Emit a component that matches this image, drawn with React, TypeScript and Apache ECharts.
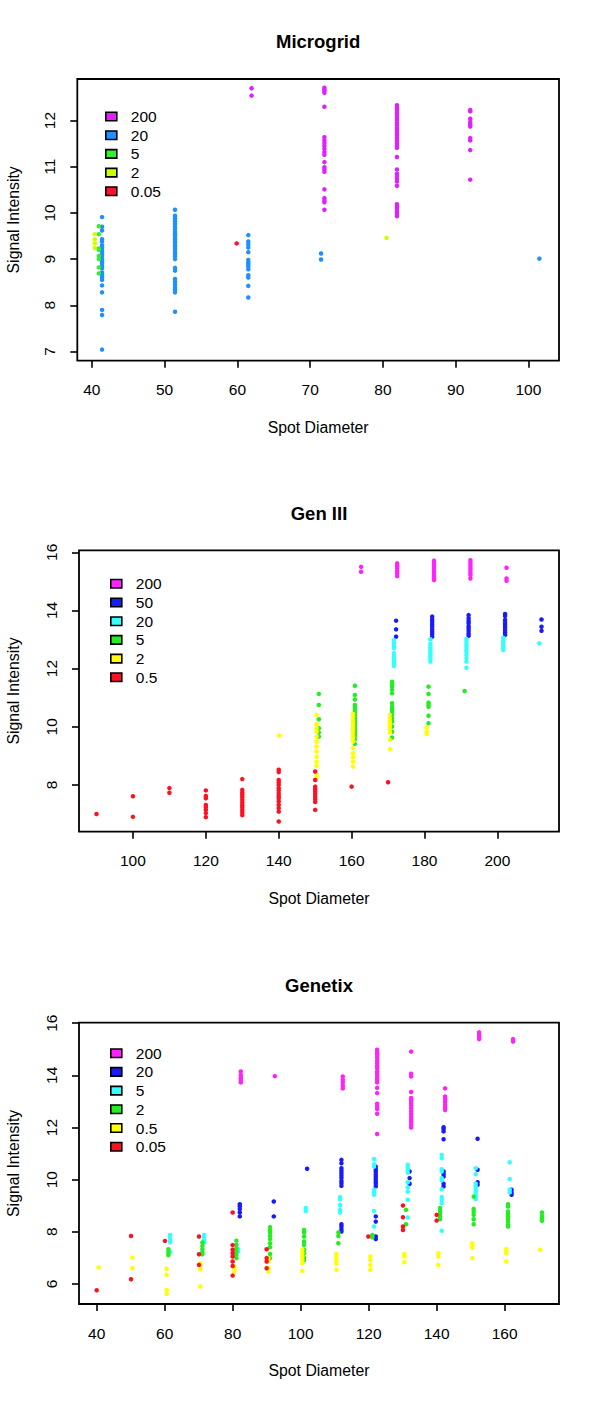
import React, { useEffect, useRef } from "react";
import * as echarts from "echarts";

type Group = [number, number[]];

// ---------- Microgrid ----------
const mgXTicks = [40, 50, 60, 70, 80, 90, 100];
const mgYTicks = [7, 8, 9, 10, 11, 12];
const mgNames = ["200", "20", "5", "2", "0.05"];
const mg200: Group[] = [
  [61.95, [12.7, 12.54]],
  [71.96, [12.71, 12.67, 12.64, 12.6, 12.3, 11.64, 11.57, 11.51, 11.45, 11.39, 11.32, 11.26, 11.1, 10.99, 10.94, 10.89, 10.51, 10.32, 10.27, 10.23, 10.07]],
  [81.93, [12.33, 12.28, 12.23, 12.17, 12.12, 12.06, 12.01, 11.95, 11.9, 11.84, 11.79, 11.73, 11.68, 11.62, 11.57, 11.51, 11.46, 11.41, 11.21, 10.94, 10.85, 10.8, 10.74, 10.68, 10.59, 10.19, 10.14, 10.09, 10.03, 9.98, 9.93]],
  [92.0, [12.23, 12.2, 12.04, 11.97, 11.92, 11.87, 11.62, 11.57, 11.36, 10.72]],
];
const mg20: Group[] = [
  [41.4, [9.91, 9.7, 9.62, 9.43, 9.38, 9.3, 9.25, 9.18, 9.12, 9.07, 9.01, 8.96, 8.91, 8.85, 8.8, 8.71, 8.65, 8.6, 8.55, 8.43, 8.28, 7.9, 7.79, 7.04]],
  [51.43, [10.07, 9.94, 9.88, 9.82, 9.76, 9.7, 9.65, 9.59, 9.54, 9.49, 9.43, 9.38, 9.33, 9.28, 9.22, 9.16, 9.11, 9.06, 9.0, 8.81, 8.75, 8.57, 8.51, 8.45, 8.38, 8.33, 8.28, 7.86]],
  [61.5, [9.52, 9.38, 9.32, 9.25, 9.15, 8.98, 8.93, 8.89, 8.84, 8.78, 8.65, 8.6, 8.42, 8.17]],
  [71.5, [9.12, 8.99]],
  [101.5, [9.01]],
];
const mg5: Group[] = [[40.96, [9.71, 9.54, 9.23, 9.2, 9.07, 9.0, 8.82, 8.69]]];
const mg2: Group[] = [
  [40.4, [9.54, 9.43, 9.34, 9.24]],
  [80.5, [9.46]],
];
const mg005: Group[] = [[59.9, [9.34]]];

// ---------- Gen III ----------
const g3XTicks = [100, 120, 140, 160, 180, 200];
const g3YTicks = [8, 10, 12, 14, 16];
const g3Names = ["200", "50", "20", "5", "2", "0.5"];
const g3_200: Group[] = [
  [162.6, [15.5, 15.33]],
  [172.5, [15.62, 15.53, 15.45, 15.35, 15.27, 15.18]],
  [182.6, [15.71, 15.62, 15.53, 15.45, 15.35, 15.27, 15.18, 15.1, 15.05]],
  [192.6, [15.73, 15.64, 15.56, 15.47, 15.39, 15.3, 15.22, 15.1]],
  [202.5, [15.47, 15.1, 15.02]],
];
const g3_50: Group[] = [
  [172.2, [13.65, 13.35, 13.1]],
  [182.1, [13.79, 13.69, 13.61, 13.53, 13.44, 13.35, 13.27, 13.19, 13.1]],
  [192.1, [13.84, 13.73, 13.64, 13.56, 13.46, 13.38, 13.3, 13.21, 13.13]],
  [202.1, [13.88, 13.81, 13.67, 13.58, 13.5, 13.42, 13.33, 13.24, 13.16]],
  [212.1, [13.69, 13.44, 13.3]],
];
const g3_20: Group[] = [
  [171.6, [12.98, 12.87, 12.78, 12.7, 12.53, 12.43, 12.35, 12.27, 12.18, 12.09]],
  [181.6, [13.01, 12.85, 12.75, 12.66, 12.58, 12.5, 12.41, 12.32, 12.24]],
  [191.5, [13.02, 12.93, 12.83, 12.75, 12.66, 12.58, 12.47, 12.35, 12.24, 12.03]],
  [201.6, [13.06, 12.98, 12.89, 12.81, 12.73, 12.64]],
  [211.5, [12.87]],
];
const g3_5: Group[] = [
  [151.0, [11.13, 10.75, 10.26, 9.95, 9.8, 9.66]],
  [160.9, [11.41, 11.09, 10.94, 10.75, 10.66, 10.58, 10.49, 10.41, 10.31, 10.23, 10.14, 10.06, 9.95, 9.86, 9.78, 9.68, 9.57, 9.41]],
  [171.1, [11.55, 11.44, 11.38, 11.27, 11.15, 10.81, 10.69, 10.6, 10.52, 10.41, 10.29, 10.18, 10.01, 9.83, 9.63]],
  [181.1, [11.38, 11.13, 10.83, 10.75, 10.69, 10.38, 10.12]],
  [191.0, [11.23]],
];
const g3_2: Group[] = [
  [140.1, [9.7]],
  [150.4, [10.41, 10.09, 9.95, 9.83, 9.66, 9.49, 9.32, 9.15, 8.97, 8.8, 8.65, 8.34, 8.26]],
  [160.4, [10.44, 10.35, 10.23, 10.14, 10.05, 9.95, 9.87, 9.78, 9.66, 9.57, 9.49, 9.26, 9.09, 8.95, 8.8, 8.63]],
  [170.5, [10.41, 10.29, 10.18, 10.1, 10.01, 9.91, 9.8, 9.55, 9.23]],
  [180.6, [9.97, 9.83, 9.75]],
];
const g3_05: Group[] = [
  [90.0, [7.0]],
  [100.0, [7.61, 6.9]],
  [110.0, [7.89, 7.73]],
  [120.0, [7.81, 7.62, 7.54, 7.31, 7.23, 7.14, 7.03, 6.89]],
  [130.0, [8.2, 7.83, 7.74, 7.66, 7.58, 7.49, 7.4, 7.31, 7.23, 7.14, 7.05, 6.96]],
  [140.0, [8.52, 8.44, 8.17, 8.08, 8.0, 7.89, 7.81, 7.71, 7.62, 7.54, 7.43, 7.31, 7.2, 7.08, 6.74]],
  [150.0, [8.46, 8.17, 7.94, 7.85, 7.77, 7.69, 7.6, 7.51, 7.41, 7.14]],
  [160.0, [7.94]],
  [170.0, [8.09]],
];

// ---------- Genetix ----------
const gxXTicks = [40, 60, 80, 100, 120, 140, 160];
const gxYTicks = [6, 8, 10, 12, 14, 16];
const gxNames = ["200", "20", "5", "2", "0.5", "0.05"];
const gx_200: Group[] = [
  [82.4, [14.15, 14.02, 13.92, 13.83, 13.73]],
  [92.4, [13.97]],
  [112.4, [13.96, 13.83, 13.73, 13.6, 13.5]],
  [122.5, [14.98, 14.88, 14.79, 14.69, 14.57, 14.47, 14.37, 14.27, 14.14, 14.04, 13.93, 13.83, 13.73, 13.52, 13.32, 12.91, 12.81, 12.71, 12.53, 11.75]],
  [132.5, [14.91, 14.06, 13.96, 13.36, 13.13, 13.04, 12.94, 12.85, 12.74, 12.62, 12.51, 12.4, 12.3, 12.21, 12.1, 12.0]],
  [142.5, [13.5, 13.19, 13.09, 12.99, 12.87, 12.77, 12.67]],
  [152.5, [15.65, 15.56, 15.47, 15.39]],
  [162.5, [15.39, 15.3]],
];
const gx_20: Group[] = [
  [82.1, [9.06, 8.97, 8.87, 8.74, 8.59]],
  [92.1, [9.16, 8.59]],
  [101.9, [10.42]],
  [112.0, [10.76, 10.63, 10.44, 10.34, 10.25, 10.15, 10.06, 9.95, 9.86, 9.76, 8.29, 8.2, 8.1, 8.01]],
  [122.1, [10.5, 10.4, 10.31, 10.21, 10.12, 10.02, 9.93, 9.84, 9.74, 8.59, 8.39, 7.82, 7.72]],
  [132.05, [10.31, 10.06, 9.84]],
  [142.05, [12.01, 11.94, 11.85, 11.55, 10.31, 10.22, 10.12, 9.84, 9.74]],
  [152.05, [11.57, 10.38, 9.9, 9.8]],
  [162.05, [9.61, 9.51, 9.42]],
];
const gx_5: Group[] = [
  [61.6, [7.88, 7.79, 7.69, 7.6, 7.22]],
  [71.6, [7.88, 7.78, 7.68, 7.59]],
  [81.6, [7.33, 7.24]],
  [101.5, [8.91, 8.8]],
  [111.6, [9.33, 9.25, 9.03, 8.84, 8.74]],
  [121.6, [10.79, 10.59, 10.5, 9.61, 9.51, 9.42, 8.8, 8.2]],
  [131.5, [10.57, 10.48, 10.38, 10.27, 9.9, 9.7, 9.54, 9.23, 8.55]],
  [141.5, [10.95, 10.82, 10.4, 10.31, 10.06, 9.97, 9.63, 9.33, 9.23, 9.1, 8.04]],
  [151.5, [10.44, 10.21, 9.84, 9.74, 9.63, 9.54, 9.44, 9.35, 9.26]],
  [161.5, [10.67, 10.02, 9.61, 9.51]],
];
const gx_2: Group[] = [
  [61.1, [7.33, 7.22, 7.11]],
  [71.1, [7.59, 7.46, 7.33, 7.22, 7.14]],
  [81.1, [7.66, 7.5, 7.37, 7.24, 7.11, 6.99]],
  [91.0, [8.18, 8.07, 7.97, 7.84, 7.72, 7.56, 7.41, 7.15, 6.99]],
  [101.0, [8.07, 7.97, 7.82, 7.63, 7.5, 7.31, 7.18, 7.02, 6.92]],
  [111.1, [7.97, 7.84, 7.56]],
  [121.1, [7.88, 7.79]],
  [131.0, [8.84, 8.29]],
  [141.0, [8.91, 8.8, 8.69, 8.59, 8.48]],
  [150.9, [9.35, 8.88, 8.78, 8.65, 8.48, 8.29]],
  [161.0, [9.06, 8.97, 8.78, 8.69, 8.59, 8.48, 8.39, 8.27, 8.2]],
  [171.0, [8.74, 8.61, 8.52, 8.42]],
];
const gx_05: Group[] = [
  [40.6, [6.63]],
  [50.5, [7.01, 6.6]],
  [60.6, [6.58, 6.35, 5.77, 5.62]],
  [70.5, [6.79, 6.69, 6.56, 5.9]],
  [80.5, [6.67, 6.56, 6.47]],
  [90.5, [6.99, 6.86, 6.6, 6.47]],
  [100.5, [7.31, 7.18, 7.05, 6.92, 6.79, 6.5]],
  [110.5, [7.15, 7.02, 6.9, 6.77, 6.54]],
  [120.5, [7.05, 6.92, 6.73, 6.54]],
  [130.5, [7.15, 7.05, 6.83]],
  [140.5, [7.18, 7.05, 6.73]],
  [150.5, [7.56, 7.46, 7.4, 6.99]],
  [160.5, [7.34, 7.27, 7.18, 6.86]],
  [170.5, [7.31]],
];
const gx_005: Group[] = [
  [40.0, [5.76]],
  [50.1, [7.84, 6.18]],
  [60.1, [7.65]],
  [70.1, [7.82, 7.14, 6.73]],
  [80.0, [8.74, 7.49, 7.31, 7.18, 7.05, 6.86, 6.69, 6.32]],
  [90.0, [7.33, 6.99, 6.86, 6.6]],
  [119.9, [7.82]],
  [130.1, [9.01, 8.56, 8.2, 8.07]],
  [140.0, [8.65, 8.43]],
];

const FONT = "'Liberation Sans', Arial, Helvetica, sans-serif";
const LABEL_SIZE = 15.5;

function expand(groups: Group[]): number[][] {
  const out: number[][] = [];
  for (const [x, ys] of groups) for (const y of ys) out.push([x, y]);
  return out;
}

const panels = [
  {
    title: "Microgrid",
    left: 77.3, top: 79, width: 481.7, height: 281.7,
    xMin: 38.0, xMax: 104.2, yMin: 6.8, yMax: 12.9,
    xTicks: mgXTicks, yTicks: mgYTicks,
    legendLeft: 105, legendTop: 108.5,
    names: mgNames,
    colors: ["#DD22FF", "#1E90FF", "#33EE33", "#CCFF00", "#FF1133"],
    groups: [mg200, mg20, mg5, mg2, mg005],
  },
  {
    title: "Gen III",
    left: 79, top: 550.3, width: 480, height: 281.4,
    xMin: 85.2, xMax: 216.9, yMin: 6.39, yMax: 16.07,
    xTicks: g3XTicks, yTicks: g3YTicks,
    legendLeft: 110, legendTop: 575.8,
    names: g3Names,
    colors: ["#FF22FF", "#1A1AFF", "#33FFFF", "#22EE22", "#FFFF00", "#FF1122"],
    groups: [g3_200, g3_50, g3_20, g3_5, g3_2, g3_05],
  },
  {
    title: "Genetix",
    left: 79, top: 1022.7, width: 480, height: 281.3,
    xMin: 34.8, xMax: 176.0, yMin: 5.23, yMax: 16.02,
    xTicks: gxXTicks, yTicks: gxYTicks,
    legendLeft: 110, legendTop: 1045.2,
    names: gxNames,
    colors: ["#FF22FF", "#1A1AFF", "#33FFFF", "#22EE22", "#FFFF00", "#FF1122"],
    groups: [gx_200, gx_20, gx_5, gx_2, gx_05, gx_005],
  },
];

export default function App() {
  const ref = useRef<HTMLDivElement>(null);
  useEffect(() => {
    if (!ref.current) return;
    const chart = echarts.init(ref.current, null, { renderer: "svg" });
    const grid: any[] = [];
    const xAxis: any[] = [];
    const yAxis: any[] = [];
    const series: any[] = [];
    const legend: any[] = [];
    const graphic: any[] = [];
    panels.forEach((p, i) => {
      grid.push({
        left: p.left, top: p.top, width: p.width, height: p.height,
        show: true, borderColor: "#000", borderWidth: 1.8, backgroundColor: "transparent",
      });
      const axisCommon = {
        axisLine: { show: false },
        splitLine: { show: false },
        axisTick: { show: true, inside: false, length: 7, lineStyle: { color: "#000", width: 1.6 } },
      };
      xAxis.push({
        type: "value", gridIndex: i, min: p.xMin, max: p.xMax,
        ...axisCommon,
        axisTick: { ...axisCommon.axisTick, customValues: p.xTicks },
        axisLabel: { customValues: p.xTicks, margin: 21, color: "#000", fontSize: LABEL_SIZE, fontFamily: FONT },
      });
      yAxis.push({
        type: "value", gridIndex: i, min: p.yMin, max: p.yMax,
        ...axisCommon,
        axisTick: { ...axisCommon.axisTick, customValues: p.yTicks },
        axisLabel: { customValues: p.yTicks, rotate: 90, margin: 20, color: "#000", fontSize: LABEL_SIZE, fontFamily: FONT },
      });
      const sNames: string[] = [];
      p.names.forEach((n, k) => {
        const sn = p.title + "|" + n;
        sNames.push(sn);
        series.push({
          type: "scatter", name: sn, xAxisIndex: i, yAxisIndex: i,
          symbol: "circle", symbolSize: 4.5,
          itemStyle: { color: p.colors[k], opacity: 1 },
          data: expand(p.groups[k]),
        });
      });
      legend.push({
        left: p.legendLeft, top: p.legendTop, orient: "vertical", padding: 0,
        itemWidth: 11, itemHeight: 8.5, itemGap: 2.7, icon: "rect", selectedMode: false,
        data: sNames,
        formatter: (name: string) => name.split("|")[1],
        itemStyle: { borderColor: "#000", borderWidth: 1.6 },
        textStyle: { fontSize: LABEL_SIZE, lineHeight: 15, color: "#000", fontFamily: FONT, padding: [0, 0, 0, 9] },
      });
      const cx = p.left + p.width / 2;
      graphic.push({
        type: "text", x: cx, y: p.top - 37.3,
        style: { text: p.title, font: `bold 18.5px ${FONT}`, fill: "#000", textAlign: "center", textVerticalAlign: "middle" },
      });
      graphic.push({
        type: "text", x: cx, y: p.top + p.height + 66.6,
        style: { text: "Spot Diameter", font: `${LABEL_SIZE + 0.3}px ${FONT}`, fill: "#000", textAlign: "center", textVerticalAlign: "middle" },
      });
      graphic.push({
        type: "text", x: 13, y: p.top + p.height / 2, rotation: Math.PI / 2,
        style: { text: "Signal Intensity", font: `${LABEL_SIZE + 0.3}px ${FONT}`, fill: "#000", textAlign: "center", textVerticalAlign: "middle" },
      });
    });
    chart.setOption({
      animation: false,
      backgroundColor: "#fff",
      grid, xAxis, yAxis, series, legend, graphic,
    });
    return () => chart.dispose();
  }, []);
  return <div ref={ref} style={{ position: "absolute", left: 0, top: 0, width: 600, height: 1401 }} />;
}
